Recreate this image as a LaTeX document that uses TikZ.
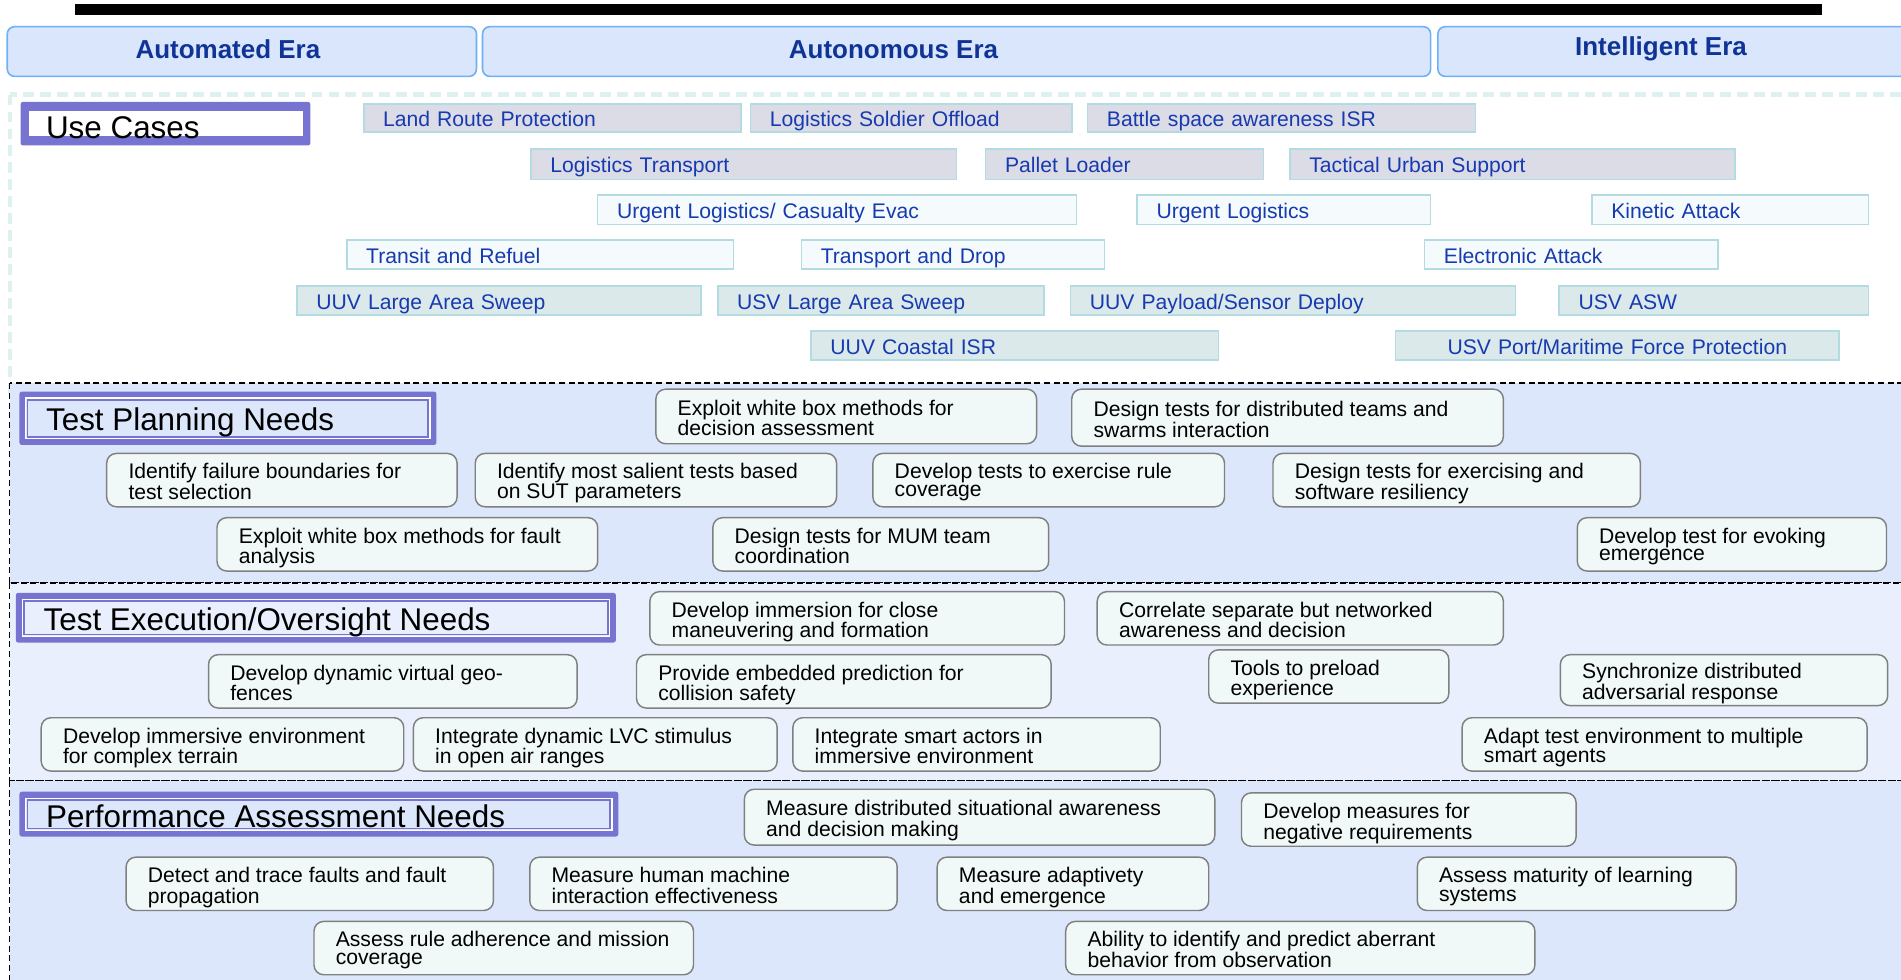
\documentclass[tikz,border=0pt]{standalone}
\usepackage{fontspec}
\setmainfont{Liberation Sans}
\usetikzlibrary{calc}

\definecolor{eraFill}{RGB}{218,230,252}
\definecolor{eraLine}{RGB}{110,175,245}
\definecolor{eraText}{RGB}{16,52,150}
\definecolor{ucTeal}{RGB}{222,240,240}
\definecolor{ucLine}{RGB}{178,220,225}
\definecolor{ucText}{RGB}{22,58,175}
\definecolor{ucGrey}{RGB}{220,220,230}
\definecolor{ucPale}{RGB}{245,250,252}
\definecolor{ucSea}{RGB}{220,233,235}
\definecolor{hdrPurple}{RGB}{118,116,208}
\definecolor{bandBlue}{RGB}{221,231,252}
\definecolor{bandPale}{RGB}{233,239,253}
\definecolor{needFill}{RGB}{240,248,248}
\definecolor{needLine}{RGB}{128,128,128}

\tikzset{
  erabox/.style={draw=eraLine, line width=1.3bp, fill=eraFill, rounded corners=6bp, inner sep=0pt},
  eratext/.style={font=\fontsize{21.5}{24}\selectfont\bfseries, text=eraText, inner sep=0pt},
  ucbox/.style={draw=ucLine, line width=1.3bp, inner xsep=16bp, inner ysep=0pt, text=ucText,
    align=left, text height=14.5bp, text depth=0.5bp, font=\fontsize{17.5}{19}\selectfont},
  needbox/.style={draw=needLine, line width=1.2bp, fill=needFill, rounded corners=8bp,
    inner xsep=18bp, inner ysep=0pt, text height=14bp, text depth=16bp,
    font=\fontsize{17.5}{16}\selectfont},
  hdrbox/.style={fill=hdrPurple, rounded corners=2bp, inner sep=0pt},
  hdrtext/.style={font=\fontsize{26}{28}\selectfont, inner sep=0pt, anchor=base west},
  band/.style={draw=black, line width=1.1bp, dash pattern=on 5bp off 3bp},
}

% use-case bar: [options]{name}{x1}{y1}{x2}{y2}{fill}{text}
\newcommand\ucitem[8][]{%
  \pgfmathsetmacro\ucW{#5-#3}%
  \pgfmathsetmacro\ucH{#6-#4}%
  \pgfmathsetmacro\ucT{#5-#3-32}%
  \node[ucbox,fill=#7,minimum width=\ucW bp,minimum height=\ucH bp,text width=\ucT bp,#1]
    (#2) at ({(#3+#5)/2},{(#4+#6)/2}) {#8};}

% need box: {name}{x1}{y1}{x2}{y2}{lines}
\newcommand\needitem[6]{%
  \pgfmathsetmacro\ndW{#4-#2}%
  \pgfmathsetmacro\ndH{#5-#3}%
  \pgfmathsetmacro\ndT{#4-#2-36}%
  \node[needbox,minimum width=\ndW bp,minimum height=\ndH bp]
    (#1) at ({(#2+#4)/2},{(#3+#5)/2})
    {\renewcommand\arraystretch{0.92}%
     \makebox[\ndT bp][l]{\begin{tabular}[t]{@{}l@{}}#6\end{tabular}}};}

% section header frame: {name}{x1}{y1}{x2}{y2}{inner fill}
\newcommand\hdritem[6]{%
  \pgfmathsetmacro\hdW{#4-#2}%
  \pgfmathsetmacro\hdH{#5-#3}%
  \node[hdrbox,minimum width=\hdW bp,minimum height=\hdH bp] (#1) at ({(#2+#4)/2},{(#3+#5)/2}) {};
  \draw[white,line width=1bp,fill=#6] ([shift={(5.5,5.5)}]#1.north west) rectangle ([shift={(-5.5,-5.5)}]#1.south east);
  \draw[hdrPurple,line width=1.4bp,fill=#6] ([shift={(6.9,6.9)}]#1.north west) rectangle ([shift={(-6.9,-6.9)}]#1.south east);}

\begin{document}
\begin{tikzpicture}[x=1bp,y=-1bp]
\clip (0,0) rectangle (1568,808);

% title rule
\fill[black] (62,3) rectangle (1503,12);

% eras
\node[erabox, minimum width=387bp, minimum height=41bp] (eraAuto) at (199.5,42.5) {};
\node[erabox, minimum width=782bp, minimum height=41bp] (eraAuton) at (789,42.5) {};
\node[erabox, minimum width=392bp, minimum height=41bp] (eraIntel) at (1382,42.5) {};
\node[eratext] (eraAutoT) at ([xshift=-11.5bp,yshift=1.5bp]eraAuto.center) {Automated Era};
\node[eratext] (eraAutonT) at ([xshift=-52bp,yshift=1.5bp]eraAuton.center) {Autonomous Era};
\node[eratext] (eraIntelT) at ([xshift=-12bp,yshift=2bp]eraIntel.center) {Intelligent Era};

% use-case area
\draw[ucTeal, line width=3.5bp, dash pattern=on 9bp off 5bp] (8,78) rectangle (1600,330);

% need bands
\draw[band, fill=bandBlue] (8,316) rectangle (1600,481);
\draw[band, fill=bandPale] (8,481) rectangle (1600,644);
\draw[band, fill=bandBlue] (8,644) rectangle (1600,830);

% headers
\node[hdrbox, minimum width=239bp, minimum height=36bp] (hdrUC) at (136.5,102) {};
\fill[white] ([shift={(7,8)}]hdrUC.north west) rectangle ([shift={(-6,-8)}]hdrUC.south east);
\node[hdrtext] (hdrUCt) at ([shift={(21,30.5)}]hdrUC.north west) {Use Cases};

\hdritem{hdrTP}{16}{323}{360}{367}{bandBlue}
\node[hdrtext] (hdrTPt) at ([shift={(22,32)}]hdrTP.north west) {Test Planning Needs};

\hdritem{hdrTE}{13}{489}{508}{530}{bandPale}
\node[hdrtext] (hdrTEt) at ([shift={(23,31)}]hdrTE.north west) {Test Execution/Oversight Needs};

\hdritem{hdrPA}{16}{653}{510}{690}{bandBlue}
\node[hdrtext] (hdrPAt) at ([shift={(22,30)}]hdrPA.north west) {Performance Assessment Needs};

% use cases
\ucitem{ucLand}{300}{86}{611}{109}{ucGrey}{Land Route Protection}
\ucitem{ucOffload}{619}{86}{884}{109}{ucGrey}{Logistics Soldier Offload}
\ucitem{ucBattle}{897}{86}{1217}{109}{ucGrey}{Battle space awareness ISR}
\ucitem{ucLogT}{438}{123}{789}{148}{ucGrey}{Logistics Transport}
\ucitem{ucPallet}{813}{123}{1042}{148}{ucGrey}{Pallet Loader}
\ucitem{ucUrban}{1064}{123}{1431}{148}{ucGrey}{Tactical Urban Support}
\ucitem{ucCasevac}{493}{161}{888}{185}{ucPale}{Urgent Logistics/ Casualty Evac}
\ucitem{ucUrgent}{938}{161}{1180}{185}{ucPale}{Urgent Logistics}
\ucitem{ucKinetic}{1313}{161}{1541}{185}{ucPale}{Kinetic Attack}
\ucitem{ucRefuel}{286}{198}{605}{222}{ucPale}{Transit and Refuel}
\ucitem{ucDrop}{661}{198}{911}{222}{ucPale}{Transport and Drop}
\ucitem{ucEA}{1175}{198}{1417}{222}{ucPale}{Electronic Attack}
\ucitem{ucUUVsweep}{245}{236}{578}{260}{ucSea}{UUV Large Area Sweep}
\ucitem{ucUSVsweep}{592}{236}{861}{260}{ucSea}{USV Large Area Sweep}
\ucitem{ucPayload}{883}{236}{1250}{260}{ucSea}{UUV Payload/Sensor Deploy}
\ucitem{ucASW}{1286}{236}{1541}{260}{ucSea}{USV ASW}
\ucitem{ucCoastal}{669}{273}{1005}{297}{ucSea}{UUV Coastal ISR}
\ucitem[align=center]{ucPort}{1151}{273}{1517}{297}{ucSea}{USV Port/Maritime Force Protection}

% test planning needs
\needitem{tp1}{541}{321}{855}{366}{Exploit white box methods for\\decision assessment}
\needitem{tp2}{884}{321}{1240}{368}{Design tests for distributed teams and\\swarms interaction}
\needitem{tp3}{88}{374}{377}{418}{Identify failure boundaries for\\test selection}
\needitem{tp4}{392}{374}{690}{418}{Identify most salient tests based\\on SUT parameters}
\needitem{tp5}{720}{374}{1010}{418}{Develop tests to exercise rule\\coverage}
\needitem{tp6}{1050}{374}{1353}{418}{Design tests for exercising and\\software resiliency}
\needitem{tp7}{179}{427}{493}{471}{Exploit white box methods for fault\\analysis}
\needitem{tp8}{588}{427}{865}{471}{Design tests for MUM team\\coordination}
\needitem{tp9}{1301}{427}{1556}{471}{Develop test for evoking\\emergence}

% test execution / oversight needs
\needitem{te1}{536}{488}{878}{532}{Develop immersion for close\\maneuvering and formation}
\needitem{te2}{905}{488}{1240}{532}{Correlate separate but networked\\awareness and decision}
\needitem{te3}{172}{540}{476}{584}{Develop dynamic virtual geo-\\fences}
\needitem{te4}{525}{540}{867}{584}{Provide embedded prediction for\\collision safety}
\needitem{te5}{997}{536}{1195}{580}{Tools to preload\\experience}
\needitem{te6}{1287}{540}{1557}{582}{Synchronize distributed\\adversarial response}
\needitem{te7}{34}{592}{333}{636}{Develop immersive environment\\for complex terrain}
\needitem{te8}{341}{592}{641}{636}{Integrate dynamic LVC stimulus\\in open air ranges}
\needitem{te9}{654}{592}{957}{636}{Integrate smart actors in\\immersive environment}
\needitem{te10}{1206}{592}{1540}{636}{Adapt test environment to multiple\\smart agents}

% performance assessment needs
\needitem{pa1}{614}{651}{1002}{697}{Measure distributed situational awareness\\and decision making}
\needitem{pa2}{1024}{654}{1300}{698}{Develop measures for\\negative requirements}
\needitem{pa3}{104}{707}{407}{751}{Detect and trace faults and fault\\propagation}
\needitem{pa4}{437}{707}{740}{751}{Measure human machine\\interaction effectiveness}
\needitem{pa5}{773}{707}{997}{751}{Measure adaptivety\\and emergence}
\needitem{pa6}{1169}{707}{1432}{751}{Assess maturity of learning\\systems}
\needitem{pa7}{259}{760}{572}{804}{Assess rule adherence and mission\\coverage}
\needitem{pa8}{879}{760}{1266}{804}{Ability to identify and predict aberrant\\behavior from observation}
\end{tikzpicture}
\end{document}
